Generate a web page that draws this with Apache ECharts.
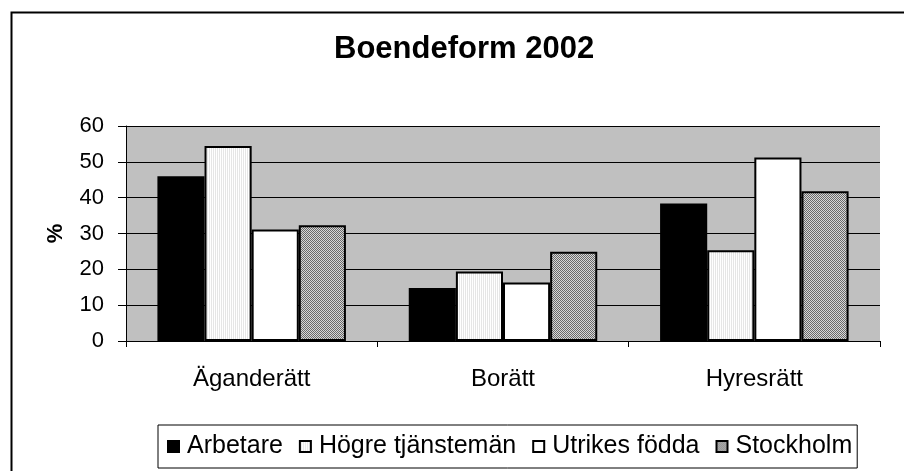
<!DOCTYPE html>
<html>
<head>
<meta charset="utf-8">
<script src="https://cdn.jsdelivr.net/npm/echarts@6/dist/echarts.min.js"></script>
<style>
  html, body { margin: 0; padding: 0; background: #fff; }
  #chart { width: 904px; height: 471px; }
</style>
</head>
<body>
<div id="chart"></div>
<script>
const categories = ['Äganderätt', 'Borätt', 'Hyresrätt']
const seriesNames = ['Arbetare', 'Högre tjänstemän', 'Utrikes födda', 'Stockholm']
const arbetare = [46, 14.8, 38.4]
const hogre = [54.4, 19.4, 25.3]
const utrikes = [31.1, 16.3, 51.2]
const stockholm = [32.3, 24.9, 41.8]
const yTicks = [0, 10, 20, 30, 40, 50, 60]

// small canvas patterns to imitate the Excel fills
function makePattern(draw, w, h) {
  const c = document.createElement('canvas')
  c.width = w; c.height = h
  draw(c.getContext('2d'))
  return { image: c, repeat: 'repeat' }
}
const stripes = makePattern(ctx => {
  ctx.fillStyle = '#ffffff'; ctx.fillRect(0, 0, 2, 1)
  ctx.fillStyle = '#e6e6e6'; ctx.fillRect(1, 0, 1, 1)
}, 2, 1)
const checker = makePattern(ctx => {
  ctx.fillStyle = '#d8d8d8'; ctx.fillRect(0, 0, 2, 2)
  ctx.fillStyle = '#6a6a6a'; ctx.fillRect(0, 0, 1, 1); ctx.fillRect(1, 1, 1, 1)
}, 2, 2)

const fills = ['#000000', stripes, '#ffffff', checker]
const values = [arbetare, hogre, utrikes, stockholm]

const chart = echarts.init(document.getElementById('chart'))
chart.setOption({
  backgroundColor: '#ffffff',
  animation: false,
  textStyle: { fontFamily: 'Liberation Sans, Arial, sans-serif', color: '#000' },
  title: {
    text: 'Boendeform 2002',
    left: 329,
    top: 29,
    textStyle: { fontSize: 31, fontWeight: 'bold', color: '#000' }
  },
  graphic: [{
    type: 'rect',
    left: 9, top: 10,
    shape: { width: 1000, height: 1000 },
    style: { fill: 'none', stroke: '#000', lineWidth: 2 },
    z: 100
  }],
  legend: {
    bottom: 3,
    left: 158,
    padding: [9, 5, 9, 9],
    itemGap: 16,
    itemWidth: 11,
    itemHeight: 11,
    icon: 'rect',
    borderColor: '#000',
    borderWidth: 1,
    textStyle: { fontSize: 25, color: '#000', padding: [0, 0, 0, 3] },
    data: seriesNames
  },
  grid: {
    left: 126, right: 24, top: 126, bottom: 130,
    show: true,
    backgroundColor: '#c0c0c0',
    borderWidth: 0
  },
  xAxis: {
    type: 'category',
    data: categories,
    axisLine: { lineStyle: { color: '#000', width: 1 } },
    axisTick: { show: true, length: 6, lineStyle: { color: '#000' } },
    axisLabel: { fontSize: 24, color: '#000', margin: 26 }
  },
  yAxis: {
    type: 'value',
    min: yTicks[0],
    max: yTicks[yTicks.length - 1],
    interval: 10,
    name: '%',
    nameLocation: 'middle',
    nameRotate: 90,
    nameGap: 59,
    nameTextStyle: { fontSize: 22, fontWeight: 'bold', color: '#000' },
    axisLine: { show: true, lineStyle: { color: '#000', width: 1 } },
    axisTick: { show: true, length: 8, lineStyle: { color: '#000' } },
    axisLabel: { fontSize: 22, color: '#000', margin: 22 },
    splitLine: { lineStyle: { color: '#000', width: 1 } }
  },
  series: seriesNames.map((name, i) => ({
    name,
    type: 'bar',
    data: values[i],
    barGap: '0%',
    barCategoryGap: '25%',
    itemStyle: {
      color: fills[i],
      borderColor: '#000',
      borderWidth: 2
    }
  }))
})
</script>
</body>
</html>
